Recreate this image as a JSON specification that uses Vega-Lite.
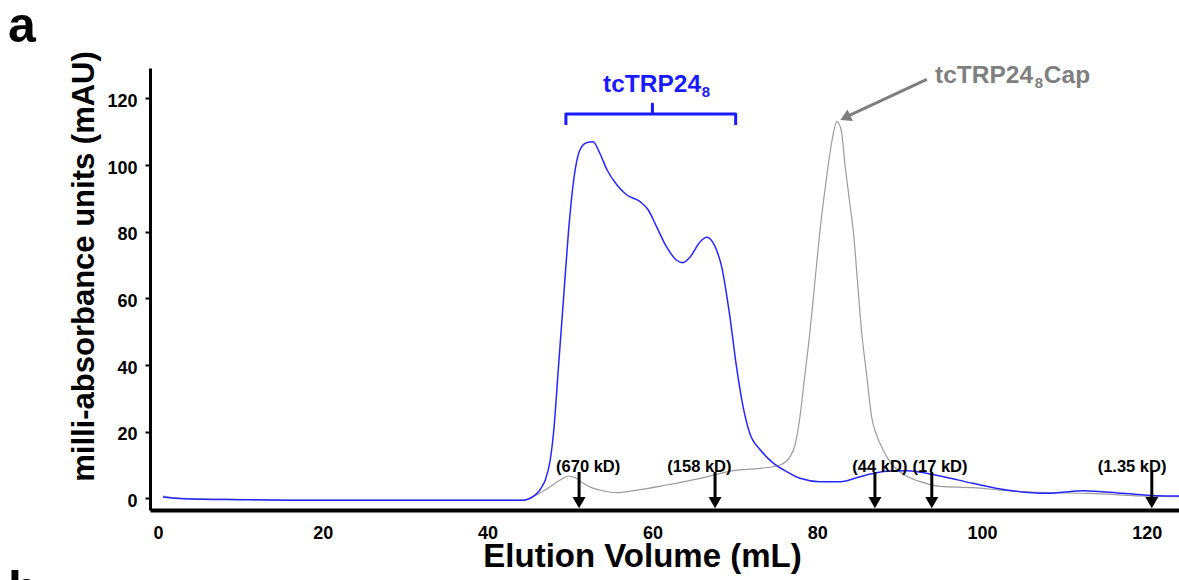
{
  "$schema": "https://vega.github.io/schema/vega-lite/v6.json",
  "width": 1029,
  "height": 442,
  "autosize": {"type": "none"},
  "padding": {"left": 150, "top": 68, "right": 0, "bottom": 70},
  "background": "white",
  "config": {"view": {"stroke": null}, "font": "Liberation Sans"},
  "datasets": {
    "blue": [
      {"v": 0.6, "a": 0.4}, {"v": 3.0, "a": -0.1}, {"v": 10, "a": -0.4}, {"v": 17.6, "a": -0.6}, {"v": 30, "a": -0.6},
      {"v": 44.3, "a": -0.6}, {"v": 45.5, "a": 0.5}, {"v": 46.0, "a": 1.5}, {"v": 46.6, "a": 3.5}, {"v": 47.0, "a": 5.5},
      {"v": 47.6, "a": 11.5}, {"v": 48.0, "a": 19.6}, {"v": 48.6, "a": 39.5}, {"v": 49.2, "a": 59.5}, {"v": 49.8, "a": 79.6},
      {"v": 50.4, "a": 94.6}, {"v": 51.2, "a": 104.5}, {"v": 52.0, "a": 106.7}, {"v": 52.8, "a": 107.0}, {"v": 53.6, "a": 103.6},
      {"v": 54.5, "a": 98.5}, {"v": 55.7, "a": 94.0}, {"v": 56.9, "a": 91.0}, {"v": 58.5, "a": 89.0}, {"v": 59.5, "a": 86.5},
      {"v": 60.5, "a": 81.5}, {"v": 61.7, "a": 75.5}, {"v": 62.9, "a": 71.5}, {"v": 63.7, "a": 70.7}, {"v": 64.6, "a": 72.5},
      {"v": 65.8, "a": 77.0}, {"v": 66.6, "a": 78.3}, {"v": 67.6, "a": 75.5}, {"v": 68.4, "a": 69.5}, {"v": 69.4, "a": 54.5},
      {"v": 70.2, "a": 39.5}, {"v": 71.0, "a": 27.5}, {"v": 71.8, "a": 19.6}, {"v": 73.1, "a": 14.5}, {"v": 74.7, "a": 10.5},
      {"v": 76.3, "a": 8.0}, {"v": 77.9, "a": 6.0}, {"v": 80.3, "a": 5.0}, {"v": 82.8, "a": 5.0}, {"v": 85.2, "a": 6.5},
      {"v": 87.0, "a": 7.6}, {"v": 88.8, "a": 8.2}, {"v": 90.9, "a": 8.3}, {"v": 94.9, "a": 6.7}, {"v": 98.9, "a": 4.5},
      {"v": 103.0, "a": 2.5}, {"v": 107.9, "a": 1.5}, {"v": 112.3, "a": 2.3}, {"v": 117.1, "a": 1.5}, {"v": 121.2, "a": 0.8},
      {"v": 123.9, "a": 0.7}
    ],
    "cap": [
      {"v": 0.6, "a": 0.7}, {"v": 3.0, "a": 0.0}, {"v": 10, "a": -0.3}, {"v": 17.6, "a": -0.5}, {"v": 30, "a": -0.5},
      {"v": 44.3, "a": -0.5}, {"v": 45.5, "a": 0.5}, {"v": 46.5, "a": 1.8}, {"v": 47.6, "a": 3.5}, {"v": 48.8, "a": 5.5},
      {"v": 49.8, "a": 6.7}, {"v": 50.6, "a": 6.2}, {"v": 51.6, "a": 4.5}, {"v": 52.6, "a": 3.2}, {"v": 53.6, "a": 2.5},
      {"v": 55.7, "a": 1.7}, {"v": 57.7, "a": 2.3}, {"v": 61.7, "a": 4.0}, {"v": 65.8, "a": 6.0}, {"v": 69.8, "a": 8.3},
      {"v": 73.1, "a": 9.0}, {"v": 75.5, "a": 10.0}, {"v": 76.7, "a": 12.5}, {"v": 77.3, "a": 16.0}, {"v": 77.9, "a": 24.4},
      {"v": 78.5, "a": 37.0}, {"v": 79.1, "a": 49.6}, {"v": 79.7, "a": 64.6}, {"v": 80.3, "a": 79.6}, {"v": 80.8, "a": 90.0},
      {"v": 81.3, "a": 99.4}, {"v": 81.8, "a": 107.5}, {"v": 82.4, "a": 113.0}, {"v": 82.9, "a": 110.5}, {"v": 83.4, "a": 99.4},
      {"v": 83.9, "a": 89.5}, {"v": 84.4, "a": 79.6}, {"v": 84.9, "a": 64.6}, {"v": 85.4, "a": 49.6}, {"v": 86.0, "a": 37.0},
      {"v": 86.6, "a": 24.4}, {"v": 87.2, "a": 19.0}, {"v": 88.0, "a": 14.5}, {"v": 88.8, "a": 11.0}, {"v": 90.0, "a": 8.0},
      {"v": 91.0, "a": 6.5}, {"v": 92.5, "a": 5.0}, {"v": 94.9, "a": 3.6}, {"v": 98.9, "a": 3.2}, {"v": 103.0, "a": 2.3},
      {"v": 107.9, "a": 1.7}, {"v": 113.1, "a": 1.5}, {"v": 119.2, "a": 0.7}, {"v": 123.9, "a": 0.5}
    ],
    "bracket": [
      {"o": 1, "v": 49.5, "a": 112.0}, {"o": 2, "v": 49.5, "a": 115.3}, {"o": 3, "v": 60.0, "a": 115.3},
      {"o": 4, "v": 60.0, "a": 118.3}, {"o": 5, "v": 60.0, "a": 115.3}, {"o": 6, "v": 70.1, "a": 115.3},
      {"o": 7, "v": 70.1, "a": 112.0}
    ],
    "markers": [
      {"kd": "(670 kD)", "v": 51.1, "lv": 52.2},
      {"kd": "(158 kD)", "v": 67.6, "lv": 65.7},
      {"kd": "(44 kD)", "v": 87.0, "lv": 87.6},
      {"kd": "(17 kD)", "v": 93.9, "lv": 94.9},
      {"kd": "(1.35 kD)", "v": 120.6, "lv": 118.2}
    ],
    "labels": [
      {"series": "tcTRP24_8", "part": "main", "text": "tcTRP24"},
      {"series": "tcTRP24_8", "part": "sub", "text": "8"},
      {"series": "tcTRP24_8Cap", "part": "main", "text": "tcTRP24"},
      {"series": "tcTRP24_8Cap", "part": "sub", "text": "8"},
      {"series": "tcTRP24_8Cap", "part": "tail", "text": "Cap"}
    ]
  },
  "layer": [
    {
      "data": {"name": "cap"},
      "mark": {"type": "line", "color": "#9c9c9c", "strokeWidth": 1.2, "interpolate": "monotone"},
      "encoding": {
        "x": {
          "field": "v", "type": "quantitative",
          "scale": {"domain": [-0.97, 123.9], "nice": false, "zero": false},
          "axis": {
            "title": "Elution Volume (mL)",
            "values": [0, 20, 40, 60, 80, 100, 120],
            "grid": false, "ticks": false, "tickSize": 0,
            "domainColor": "black", "domainWidth": 4,
            "labelFont": "Liberation Sans", "labelFontWeight": "bold", "labelFontSize": 18, "labelColor": "black",
            "labelPadding": 14,
            "titleFont": "Liberation Sans", "titleFontWeight": "bold", "titleFontSize": 33, "titleColor": "black",
            "titleX": 492, "titleY": 46, "titleAlign": "center", "titleBaseline": "middle"
          }
        },
        "y": {
          "field": "a", "type": "quantitative",
          "scale": {"domain": [-3.5, 129.1], "nice": false, "zero": false},
          "axis": {
            "title": "milli-absorbance units (mAU)",
            "values": [0, 20, 40, 60, 80, 100, 120],
            "grid": false, "ticks": true, "tickSize": 5, "tickWidth": 2, "tickColor": "black",
            "domainColor": "black", "domainWidth": 3,
            "labelFont": "Liberation Sans", "labelFontWeight": "bold", "labelFontSize": 18, "labelColor": "black",
            "labelPadding": 8, "labelOffset": 3,
            "titleFont": "Liberation Sans", "titleFontWeight": "bold", "titleFontSize": 31, "titleColor": "black",
            "titleX": -66, "titleY": 198, "titleAngle": -90, "titleAlign": "center", "titleBaseline": "middle"
          }
        }
      }
    },
    {
      "data": {"name": "blue"},
      "mark": {"type": "line", "color": "#2626ff", "strokeWidth": 1.5, "interpolate": "monotone"},
      "encoding": {
        "x": {"field": "v", "type": "quantitative"},
        "y": {"field": "a", "type": "quantitative"}
      }
    },
    {
      "data": {"name": "bracket"},
      "mark": {"type": "line", "color": "#1a1aff", "strokeWidth": 3, "strokeJoin": "round", "strokeCap": "butt"},
      "encoding": {
        "x": {"field": "v", "type": "quantitative"},
        "y": {"field": "a", "type": "quantitative"},
        "order": {"field": "o"}
      }
    },
    {
      "data": {"name": "labels"},
      "transform": [{"filter": "datum.series === 'tcTRP24_8' && datum.part === 'main'"}],
      "mark": {"type": "text", "color": "#1a1aff", "font": "Liberation Sans", "fontWeight": "bold", "fontSize": 24.5, "align": "left", "baseline": "alphabetic"},
      "encoding": {
        "x": {"datum": 54.0, "type": "quantitative"},
        "y": {"datum": 121.9, "type": "quantitative"},
        "text": {"field": "text"}
      }
    },
    {
      "data": {"name": "labels"},
      "transform": [{"filter": "datum.series === 'tcTRP24_8' && datum.part === 'sub'"}],
      "mark": {"type": "text", "color": "#1a1aff", "font": "Liberation Sans", "fontWeight": "bold", "fontSize": 15, "align": "left", "baseline": "alphabetic"},
      "encoding": {
        "x": {"datum": 66.0, "type": "quantitative"},
        "y": {"datum": 120.5, "type": "quantitative"},
        "text": {"field": "text"}
      }
    },
    {
      "data": {"values": [{"what": "arrow"}]},
      "mark": {"type": "rule", "color": "#7f7f7f", "strokeWidth": 3},
      "encoding": {
        "x": {"datum": 93.3, "type": "quantitative"},
        "x2": {"datum": 83.9},
        "y": {"datum": 125.7, "type": "quantitative"},
        "y2": {"datum": 114.9}
      }
    },
    {
      "data": {"values": [{"what": "arrowhead"}]},
      "mark": {"type": "point", "shape": "triangle-up", "angle": 244.8, "filled": true, "color": "#7f7f7f", "size": 160, "opacity": 1, "strokeWidth": 0},
      "encoding": {
        "x": {"datum": 83.4, "type": "quantitative"},
        "y": {"datum": 114.2, "type": "quantitative"}
      }
    },
    {
      "data": {"name": "labels"},
      "transform": [{"filter": "datum.series === 'tcTRP24_8Cap' && datum.part === 'main'"}],
      "mark": {"type": "text", "color": "#7f7f7f", "font": "Liberation Sans", "fontWeight": "bold", "fontSize": 24.5, "align": "left", "baseline": "alphabetic"},
      "encoding": {
        "x": {"datum": 94.3, "type": "quantitative"},
        "y": {"datum": 124.5, "type": "quantitative"},
        "text": {"field": "text"}
      }
    },
    {
      "data": {"name": "labels"},
      "transform": [{"filter": "datum.series === 'tcTRP24_8Cap' && datum.part === 'sub'"}],
      "mark": {"type": "text", "color": "#7f7f7f", "font": "Liberation Sans", "fontWeight": "bold", "fontSize": 15, "align": "left", "baseline": "alphabetic"},
      "encoding": {
        "x": {"datum": 106.4, "type": "quantitative"},
        "y": {"datum": 123.1, "type": "quantitative"},
        "text": {"field": "text"}
      }
    },
    {
      "data": {"name": "labels"},
      "transform": [{"filter": "datum.series === 'tcTRP24_8Cap' && datum.part === 'tail'"}],
      "mark": {"type": "text", "color": "#7f7f7f", "font": "Liberation Sans", "fontWeight": "bold", "fontSize": 24.5, "align": "left", "baseline": "alphabetic"},
      "encoding": {
        "x": {"datum": 107.5, "type": "quantitative"},
        "y": {"datum": 124.5, "type": "quantitative"},
        "text": {"field": "text"}
      }
    },
    {
      "data": {"name": "markers"},
      "mark": {"type": "rule", "color": "black", "strokeWidth": 3},
      "encoding": {
        "x": {"field": "v", "type": "quantitative"},
        "y": {"datum": 7.9, "type": "quantitative"},
        "y2": {"datum": -0.3}
      }
    },
    {
      "data": {"name": "markers"},
      "mark": {"type": "point", "shape": "triangle-down", "filled": true, "color": "black", "size": 170, "opacity": 1, "strokeWidth": 0},
      "encoding": {
        "x": {"field": "v", "type": "quantitative"},
        "y": {"datum": -1.3, "type": "quantitative"}
      }
    },
    {
      "data": {"name": "markers"},
      "mark": {"type": "text", "color": "black", "font": "Liberation Sans", "fontWeight": "bold", "fontSize": 16.5, "align": "center", "baseline": "middle"},
      "encoding": {
        "x": {"field": "lv", "type": "quantitative"},
        "y": {"datum": 9.4, "type": "quantitative"},
        "text": {"field": "kd"}
      }
    },
    {
      "data": {"values": [{"panel": "a"}, {"panel": "b"}]},
      "transform": [{"filter": "datum.panel === 'a'"}],
      "mark": {"type": "text", "color": "black", "font": "Liberation Sans", "fontWeight": "bold", "fontSize": 50, "align": "left", "baseline": "alphabetic"},
      "encoding": {
        "x": {"datum": -18.2, "type": "quantitative"},
        "y": {"datum": 136.9, "type": "quantitative"},
        "text": {"field": "panel"}
      }
    },
    {
      "data": {"values": [{"panel": "a"}, {"panel": "b"}]},
      "transform": [{"filter": "datum.panel === 'b'"}],
      "mark": {"type": "text", "color": "black", "font": "Liberation Sans", "fontWeight": "bold", "fontSize": 50, "align": "left", "baseline": "alphabetic"},
      "encoding": {
        "x": {"datum": -18.2, "type": "quantitative"},
        "y": {"datum": -32.3, "type": "quantitative"},
        "text": {"field": "panel"}
      }
    }
  ]
}
